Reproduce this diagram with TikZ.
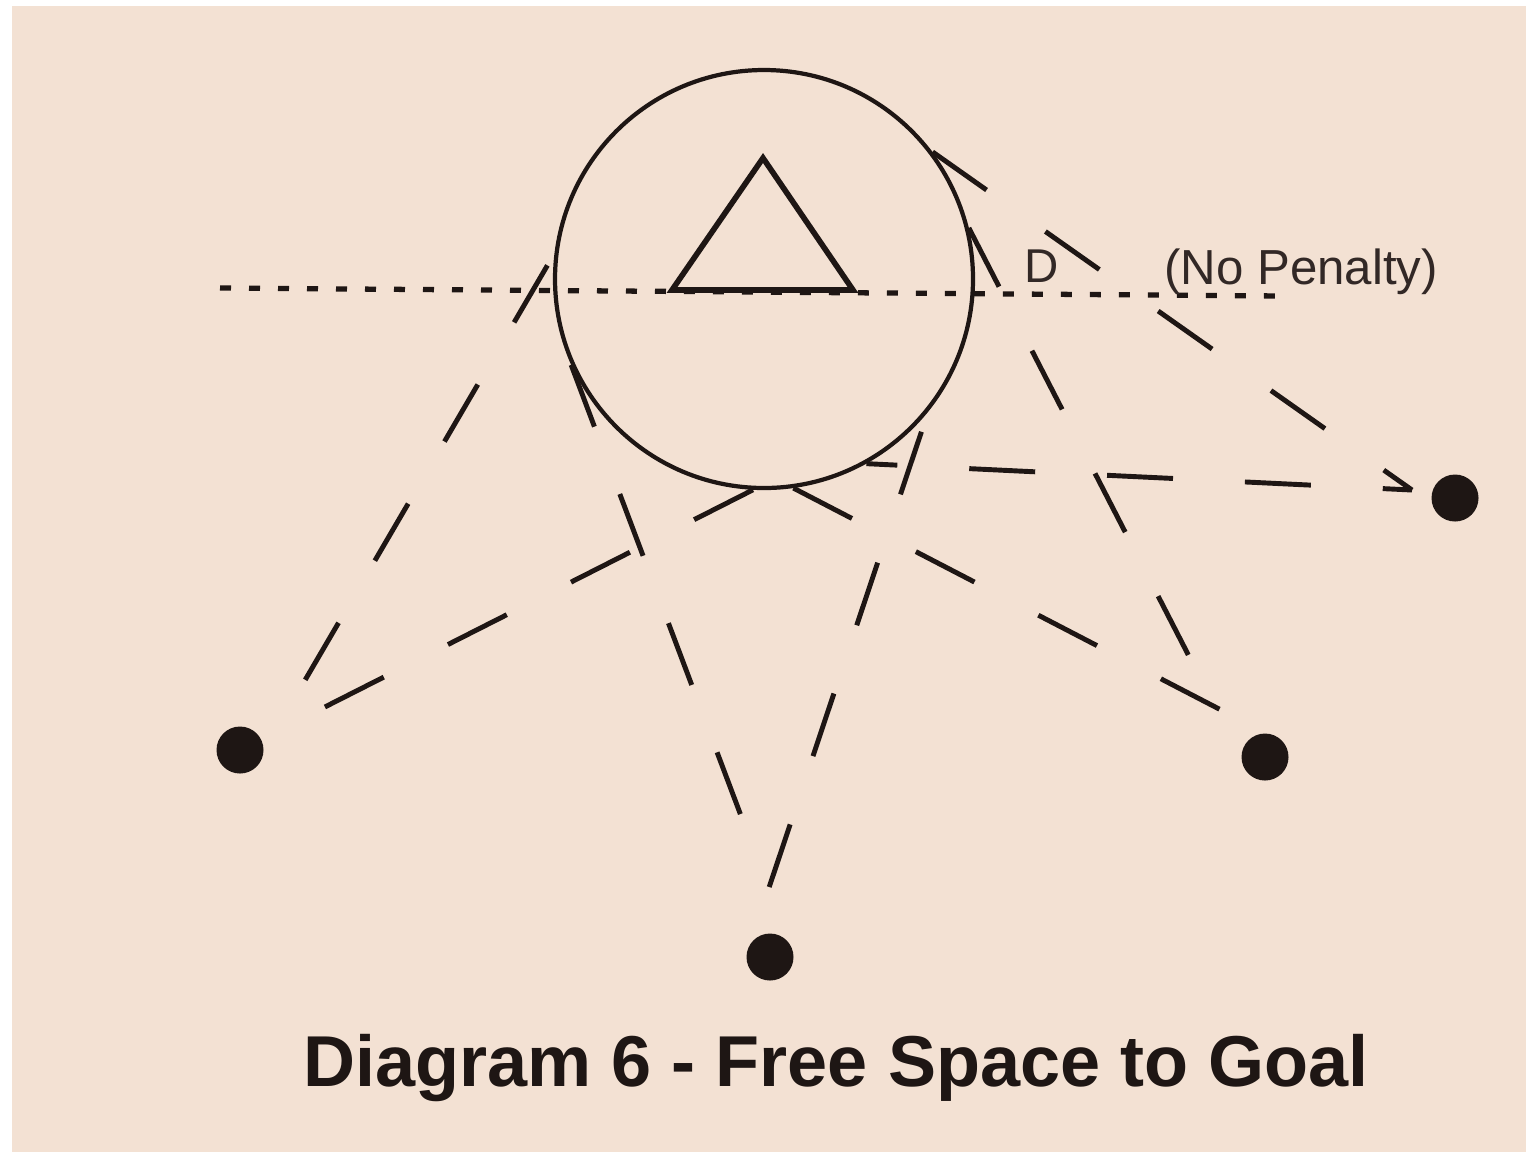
\documentclass[tikz,border=0pt]{standalone}
\usepackage{fontspec}
\setmainfont{Liberation Sans}
\definecolor{dgink}{RGB}{30,22,20}
\definecolor{dggrey}{RGB}{50,40,38}
\definecolor{dgpaper}{RGB}{243,225,211}
\usetikzlibrary{calc}

\begin{document}
\begin{tikzpicture}[x=1cm, y=-1cm,
  player/.style={circle, fill=dgink, inner sep=0pt, minimum size=0.47cm},
  crease/.style={circle, draw=dgink, line width=1.2pt, inner sep=0pt, minimum size=4.18cm},
  lane/.style={dgink, line width=1.4pt, dash pattern=on 0.66cm off 0.72cm},
  penalty/.style={dgink, line width=1.5pt, dash pattern=on 0.11cm off 0.18cm},
  label/.style={text=dggrey, inner sep=0pt, anchor=base}
]
  \useasboundingbox (0,0) rectangle (15.31,11.62);
  \fill[white] (0,0) rectangle (15.31,11.62);
  \fill[dgpaper] (0.12,0.06) rectangle (15.26,11.52);

  \draw[penalty] (2.20,2.88) -- (12.85,2.96);
  \node[crease] (crease) at (7.64,2.79) {};
  \draw[dgink, line width=1.6pt] (6.72,2.90) -- (7.63,1.58) -- (8.53,2.90) -- cycle;

  \node[player] (left) at (2.40,7.50) {};
  \node[player] (bottom) at (7.70,9.57) {};
  \node[player] (rb) at (12.65,7.57) {};
  \node[player] (right) at (14.55,4.98) {};
  \coordinate (meet) at (14.12,4.90);

  \node[label, font=\fontsize{13.5}{15}\selectfont] (dman) at (10.42,2.82) {D};
  \node[label, font=\fontsize{14}{16}\selectfont] (nopen) at (13.01,2.84) {(No Penalty)};

  \draw[lane, shorten <=0.14cm, shorten >=0.72cm] (crease.173) -- (left.east);
  \draw[lane, shorten >=0.88cm] (crease.267) -- (left.center);
  \draw[lane, shorten >=1.38cm] (crease.204) -- (bottom.east);
  \draw[lane, shorten <=0.21cm, shorten >=0.66cm] (crease.321) -- (bottom.west);
  \draw[lane, shorten >=0.47cm] (crease.278) -- (rb.north);
  \draw[lane, shorten >=1.10cm] (crease.14) -- (rb.west);
  \draw[lane, dash phase=0.35cm] (crease.299) -- (meet);
  \draw[lane] (crease.37) -- (meet);

  \node[font=\fontsize{20.5}{24}\bfseries, text=dgink, inner sep=0pt, anchor=base] (title) at (8.36,10.86) {Diagram 6 - Free Space to Goal};
\end{tikzpicture}
\end{document}
